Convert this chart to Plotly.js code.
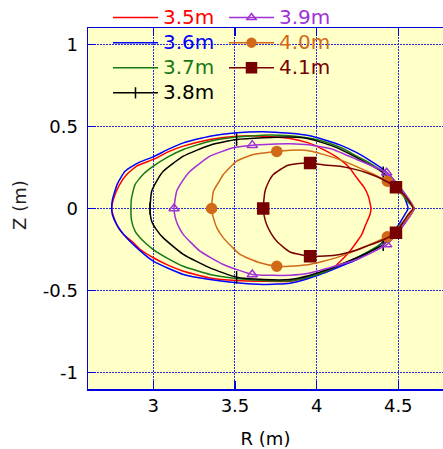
<!DOCTYPE html>
<html>
<head>
<meta charset="utf-8">
<script src="https://cdn.plot.ly/plotly-3.0.1.min.js"></script>
<style>html,body{margin:0;padding:0;background:#fff;}#chart{width:443px;height:449px;}</style>
</head>
<body>
<div id="chart"></div>
<script>
// Flux-surface contours (R, Z in metres)
const labels = ["3.5m", "3.6m", "3.7m", "3.8m", "3.9m", "4.0m", "4.1m"];

const r35 = [2.745, 2.755, 2.79, 2.837, 2.9, 3.0, 3.09, 3.184, 3.347, 3.51, 3.674, 3.837, 3.95, 4.04, 4.143, 4.2, 4.246, 4.29, 4.317, 4.333, 4.327, 4.30, 4.276, 4.204, 4.102, 3.98, 3.837, 3.674, 3.51, 3.347, 3.184, 3.09, 3.0, 2.92, 2.878, 2.82, 2.786, 2.76, 2.745];
const z35 = [0, 0.055, 0.14, 0.207, 0.26, 0.299, 0.345, 0.38, 0.421, 0.441, 0.441, 0.427, 0.40, 0.36, 0.30, 0.25, 0.187, 0.13, 0.075, 0, -0.037, -0.10, -0.159, -0.26, -0.362, -0.413, -0.443, -0.443, -0.439, -0.423, -0.382, -0.345, -0.30, -0.25, -0.209, -0.16, -0.118, -0.06, 0];

const r36 = [2.745, 2.75, 2.78, 2.827, 2.91, 3.0, 3.09, 3.184, 3.347, 3.511, 3.674, 3.837, 3.95, 4.041, 4.15, 4.246, 4.33, 4.408, 4.48, 4.531, 4.56, 4.54, 4.49, 4.388, 4.246, 4.14, 4.04, 3.94, 3.837, 3.674, 3.511, 3.347, 3.184, 3.0, 2.878, 2.82, 2.776, 2.75, 2.745];
const z36 = [0, 0.055, 0.15, 0.227, 0.28, 0.315, 0.36, 0.40, 0.441, 0.462, 0.468, 0.458, 0.445, 0.421, 0.385, 0.34, 0.29, 0.238, 0.165, 0.085, 0, -0.037, -0.116, -0.22, -0.311, -0.355, -0.395, -0.43, -0.455, -0.463, -0.453, -0.433, -0.402, -0.321, -0.22, -0.16, -0.098, -0.04, 0];

const r37 = [2.863, 2.866, 2.888, 2.94, 3.0, 3.09, 3.184, 3.347, 3.51, 3.674, 3.837, 3.95, 4.041, 4.15, 4.246, 4.32, 4.388, 4.45, 4.52, 4.56, 4.597, 4.56, 4.48, 4.388, 4.246, 4.14, 4.041, 3.94, 3.837, 3.674, 3.51, 3.347, 3.184, 3.09, 3.0, 2.94, 2.888, 2.866, 2.863];
const z37 = [0, 0.06, 0.146, 0.21, 0.258, 0.315, 0.36, 0.41, 0.435, 0.447, 0.443, 0.43, 0.41, 0.37, 0.319, 0.28, 0.238, 0.17, 0.09, 0.04, 0, -0.055, -0.128, -0.22, -0.30, -0.345, -0.39, -0.42, -0.44, -0.439, -0.427, -0.402, -0.352, -0.305, -0.25, -0.20, -0.138, -0.07, 0];

const r38 = [2.98, 2.99, 3.025, 3.061, 3.184, 3.347, 3.51, 3.674, 3.837, 3.95, 4.1, 4.246, 4.408, 4.47, 4.53, 4.595, 4.53, 4.47, 4.408, 4.246, 4.1, 3.95, 3.837, 3.674, 3.51, 3.347, 3.184, 3.061, 3.02, 2.99, 2.98];
const z38 = [0, 0.105, 0.175, 0.227, 0.319, 0.386, 0.42, 0.431, 0.435, 0.425, 0.38, 0.31, 0.218, 0.16, 0.09, 0, -0.09, -0.16, -0.22, -0.30, -0.36, -0.41, -0.433, -0.433, -0.419, -0.362, -0.28, -0.179, -0.13, -0.077, 0];

const r39 = [3.127, 3.143, 3.18, 3.225, 3.347, 3.49, 3.606, 3.72, 3.837, 3.95, 4.1, 4.246, 4.429, 4.49, 4.545, 4.598, 4.545, 4.49, 4.429, 4.246, 4.1, 3.95, 3.837, 3.72, 3.606, 3.429, 3.286, 3.184, 3.15, 3.133, 3.127];
const z39 = [0, 0.105, 0.17, 0.227, 0.319, 0.37, 0.386, 0.392, 0.394, 0.388, 0.36, 0.299, 0.218, 0.155, 0.085, 0, -0.085, -0.155, -0.22, -0.311, -0.355, -0.395, -0.407, -0.407, -0.402, -0.341, -0.26, -0.159, -0.1, -0.05, 0];

const r40 = [3.357, 3.368, 3.4, 3.429, 3.51, 3.612, 3.756, 3.837, 3.93, 4.041, 4.15, 4.29, 4.433, 4.49, 4.55, 4.595, 4.55, 4.49, 4.433, 4.29, 4.15, 4.041, 3.93, 3.837, 3.756, 3.653, 3.531, 3.429, 3.39, 3.368, 3.357];
const z40 = [0, 0.105, 0.16, 0.207, 0.288, 0.329, 0.348, 0.355, 0.355, 0.33, 0.295, 0.235, 0.166, 0.12, 0.065, 0, -0.065, -0.125, -0.172, -0.235, -0.29, -0.321, -0.345, -0.352, -0.352, -0.331, -0.28, -0.179, -0.12, -0.057, 0];

const r41 = [3.673, 3.684, 3.705, 3.735, 3.82, 3.89, 3.96, 4.05, 4.143, 4.23, 4.306, 4.4, 4.486, 4.53, 4.572, 4.59, 4.56, 4.525, 4.486, 4.4, 4.306, 4.23, 4.143, 4.05, 3.96, 3.837, 3.756, 3.72, 3.694, 3.68, 3.673];
const z41 = [0, 0.105, 0.16, 0.207, 0.262, 0.275, 0.277, 0.265, 0.258, 0.24, 0.218, 0.18, 0.13, 0.09, 0.037, 0, -0.037, -0.09, -0.148, -0.195, -0.23, -0.258, -0.28, -0.29, -0.291, -0.265, -0.2, -0.15, -0.098, -0.05, 0];

// indices of the curve points that carry a marker
const markerIdx = [0, 6, 12, 18, 24];

const tickX = [3, 3.5, 4, 4.5];
const tickY = [-1, -0.5, 0, 0.5, 1];
const xTitle = "R (m)";
const yTitle = "Z (m)";

const FONT = "DejaVu Sans, Verdana, sans-serif";

const series = [
  {name: labels[0], r: r35, z: z35, color: "#ff0000", sym: null, legend: "legend"},
  {name: labels[1], r: r36, z: z36, color: "#0000ff", sym: null, legend: "legend"},
  {name: labels[2], r: r37, z: z37, color: "#187818", sym: null, legend: "legend"},
  {name: labels[3], r: r38, z: z38, color: "#000000", sym: "line-ns-open", size: 9, legend: "legend"},
  {name: labels[4], r: r39, z: z39, color: "#a030d8", sym: "triangle-up-open", size: 9, legend: "legend2"},
  {name: labels[5], r: r40, z: z40, color: "#d06a18", sym: "circle", size: 10, legend: "legend2"},
  {name: labels[6], r: r41, z: z41, color: "#780000", sym: "square", size: 11, legend: "legend2"}
];

const traces = [];
series.forEach(s => {
  traces.push({
    x: s.r, y: s.z, type: "scatter", mode: "lines",
    line: {color: s.color, width: 1.5, shape: "spline", smoothing: 0.5},
    showlegend: false, hoverinfo: "skip"
  });
  if (s.sym) {
    traces.push({
      x: markerIdx.map(i => s.r[i]), y: markerIdx.map(i => s.z[i]),
      type: "scatter", mode: "markers",
      marker: {symbol: s.sym, size: s.size, color: s.color, line: {color: s.color, width: 1.5}},
      showlegend: false, hoverinfo: "skip"
    });
  }
});
series.forEach(s => {
  const t = {
    x: [null], y: [null], type: "scatter",
    mode: s.sym ? "lines+markers" : "lines",
    line: {color: s.color, width: 1.5},
    name: '<span style="font-size:20px;color:' + s.color + '">' + s.name + '</span>',
    legend: s.legend, showlegend: true
  };
  if (s.sym) t.marker = {symbol: s.sym, size: s.size - 1, color: s.color, line: {color: s.color, width: 1.5}};
  traces.push(t);
});

const axisCommon = {
  showline: true, linecolor: "#0000e0", linewidth: 1.5,
  ticks: "inside", ticklen: 8, tickcolor: "#0000e0", tickwidth: 1.5,
  showgrid: true, gridcolor: "#2a2ae6", griddash: "2px,1px", gridwidth: 1,
  zeroline: false, automargin: false,
  tickfont: {family: FONT, size: 18, color: "#000"}
};

const layout = {
  width: 443, height: 449,
  margin: {l: 88, r: 0, t: 28, b: 60, pad: 0, autoexpand: false},
  paper_bgcolor: "#ffffff", plot_bgcolor: "#ffffc8",
  font: {family: FONT, color: "#000"},
  xaxis: Object.assign({}, axisCommon, {
    range: [2.6, 4.774], tickvals: tickX, ticktext: tickX.map(String), mirror: "ticks",
    title: {text: xTitle, font: {family: FONT, size: 18}}
  }),
  yaxis: Object.assign({}, axisCommon, {
    range: [-1.1, 1.1], tickvals: tickY, ticktext: tickY.map(String),
    ticklabelstandoff: 5
  }),
  annotations: [{
    text: yTitle, textangle: -90, showarrow: false,
    xref: "paper", yref: "paper", x: -68 / 355, y: 0.51, xanchor: "center", yanchor: "middle",
    font: {family: FONT, size: 18, color: "#222"}
  }],
  legend: {xref: "container", yref: "container", x: 108 / 443, y: 1 + 5 / 449, xanchor: "left", yanchor: "top",
           bgcolor: "rgba(0,0,0,0)", borderwidth: 0, itemwidth: 45, font: {family: FONT, size: 17}, tracegroupgap: 0},
  legend2: {xref: "container", yref: "container", x: 224 / 443, y: 1 + 5 / 449, xanchor: "left", yanchor: "top",
           bgcolor: "rgba(0,0,0,0)", borderwidth: 0, itemwidth: 45, font: {family: FONT, size: 17}, tracegroupgap: 0},
  showlegend: true
};

Plotly.newPlot("chart", traces, layout, {displayModeBar: false, staticPlot: true});
</script>
</body>
</html>
